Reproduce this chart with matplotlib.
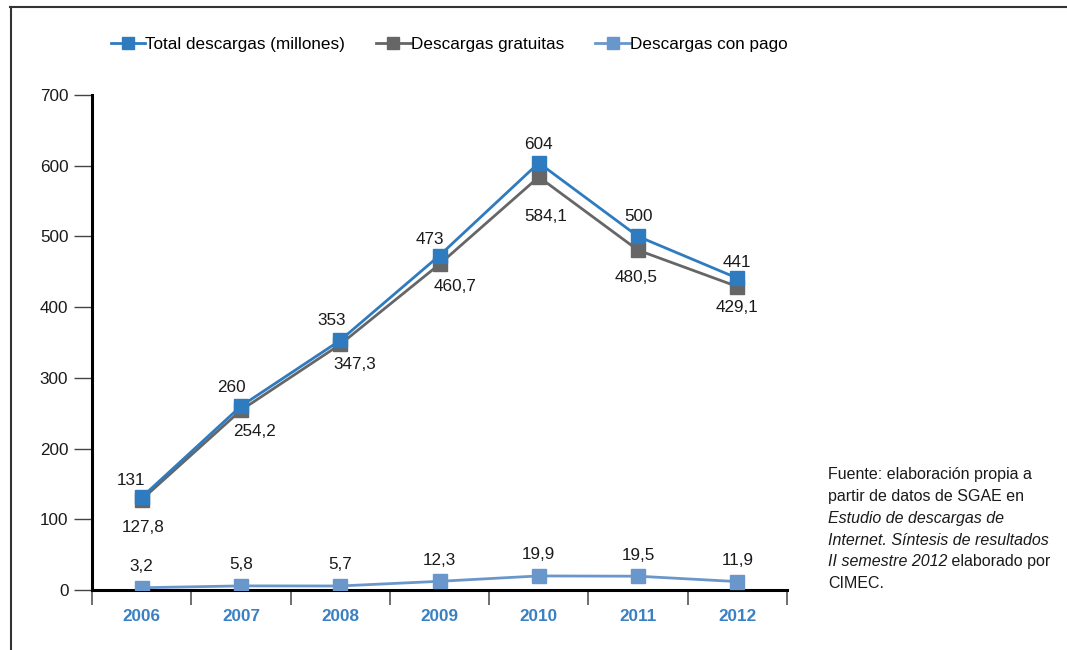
import matplotlib
matplotlib.use("Agg")
import matplotlib.pyplot as plt
from matplotlib.lines import Line2D
import numpy as np

plt.rcParams['font.family'] = ['Liberation Sans', 'DejaVu Sans']

years = ["2006", "2007", "2008", "2009", "2010", "2011", "2012"]
total = [131, 260, 353, 473, 604, 500, 441]
gratuitas = [127.8, 254.2, 347.3, 460.7, 584.1, 480.5, 429.1]
pago = [3.2, 5.8, 5.7, 12.3, 19.9, 19.5, 11.9]
series_names = ["Total descargas (millones)", "Descargas gratuitas", "Descargas con pago"]
yticks = [0, 100, 200, 300, 400, 500, 600, 700]

# label offsets in pixels (dx, dy)
total_off = [(-11, 17), (-9, 19), (-9, 20), (-10, 16), (0, 18), (0, 20), (0, 16)]
grat_off = [(2, -28), (14, -21), (15, -20), (16, -22), (7, -40), (-2, -27), (0, -21)]
pago_off = [(0, 21)] * 7

c_total = "#2e7bbf"
c_grat = "#666666"
c_pago = "#6a97cb"

FS = 12.3

def fmt(v):
    if float(v).is_integer():
        return str(int(v))
    return f"{v:.1f}".replace(".", ",")

fig = plt.figure(figsize=(10.67, 6.5), dpi=100)
ax = fig.add_axes([92/1067, 1-590/650, (787-92)/1067, (590-95)/650])

x = np.arange(len(years))
ax.plot(x, pago, color=c_pago, lw=2, marker='s', ms=9.6, label=series_names[2], zorder=3)
ax.plot(x, gratuitas, color=c_grat, lw=2, marker='s', ms=9.6, label=series_names[1], zorder=3)
ax.plot(x, total, color=c_total, lw=2, marker='s', ms=10, label=series_names[0], zorder=4)

k = 0.72
for vals, offs in ((total, total_off), (gratuitas, grat_off), (pago, pago_off)):
    for xi, v, (dx, dy) in zip(x, vals, offs):
        ax.annotate(fmt(v), (xi, v), xytext=(dx*k, dy*k), textcoords='offset points',
                    ha='center', va='center', fontsize=FS, color='#1a1a1a')

ax.set_xlim(-0.5, len(years) - 0.5)
ax.set_ylim(0, 700)
ax.set_yticks(yticks)
ax.set_yticklabels([str(t) for t in yticks], fontsize=FS, color='#1a1a1a')
ax.tick_params(axis='y', length=13, width=1, color='#444444', pad=4)

ax.set_xticks(x)
ax.set_xticklabels(years, fontsize=FS, color='#3a80c2', fontweight='bold')
ax.tick_params(axis='x', which='major', length=0, pad=14)
ax.set_xticks(np.arange(-0.5, len(years)), minor=True)
ax.tick_params(axis='x', which='minor', length=11, width=1.2, color='#555555')

for s in ['top', 'right']:
    ax.spines[s].set_visible(False)
ax.spines['left'].set_linewidth(2.2)
ax.spines['bottom'].set_linewidth(2.2)
ax.spines['left'].set_color('black')
ax.spines['bottom'].set_color('black')

handles, labels = ax.get_legend_handles_labels()
order = [2, 1, 0]
fig.legend([handles[i] for i in order], [labels[i] for i in order],
           loc='center', bbox_to_anchor=(449/1067, 1-44/650), ncol=3, frameon=False,
           fontsize=FS, handlelength=2.0, handletextpad=0.0, columnspacing=1.85,
           markerscale=0.9)

# frame lines
fig.add_artist(Line2D([10/1067, 1], [1-7/650, 1-7/650], color='#333333', lw=1.5))
fig.add_artist(Line2D([11/1067, 11/1067], [0, 1-7/650], color='#333333', lw=1.5))

# source note
x0 = 828/1067
lines = [
    [("Fuente: elaboración propia a", 'normal')],
    [("partir de datos de SGAE en", 'normal')],
    [("Estudio de descargas de", 'italic')],
    [("Internet. Síntesis de resultados", 'italic')],
    [("II semestre 2012", 'italic'), (" elaborado por", 'normal')],
    [("CIMEC.", 'normal')],
]
fig.canvas.draw()
renderer = fig.canvas.get_renderer()
y_px = 475
for parts in lines:
    xx = x0
    for txt, style in parts:
        t = fig.text(xx, 1 - y_px/650, txt, fontsize=11.5, style=style,
                     ha='left', va='center', color='#1a1a1a')
        bb = t.get_window_extent(renderer=renderer)
        xx += bb.width / fig.bbox.width
    y_px += 21.7

fig.savefig("out.png", dpi=100)
